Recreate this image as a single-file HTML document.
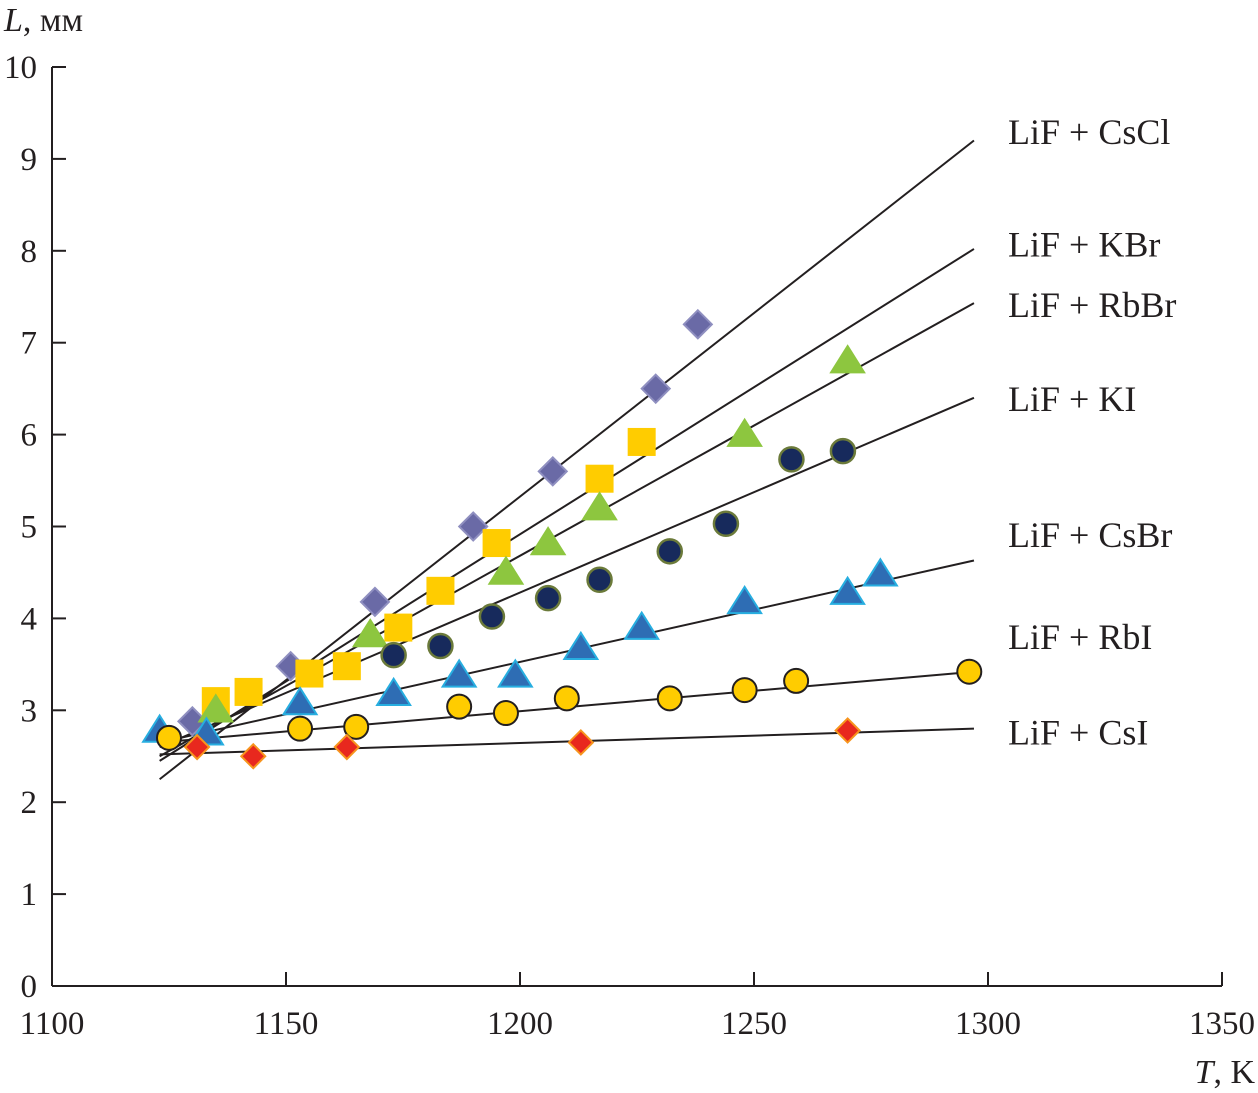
<!DOCTYPE html>
<html><head><meta charset="utf-8"><style>
html,body{margin:0;padding:0;background:#fff}
svg{display:block}
text{font-family:"Liberation Serif",serif;fill:#231f20}
</style></head><body>
<svg id="chart" width="1258" height="1093" viewBox="0 0 1258 1093" xmlns="http://www.w3.org/2000/svg">
<g id="axes"></g>
<g id="lines"></g>
<g id="marks"></g>
<g id="labels"></g>
</svg>
<script>
const xTicks=[1100,1150,1200,1250,1300,1350];
const yTicks=[0,1,2,3,4,5,6,7,8,9,10];
const seriesNames=["LiF + CsCl","LiF + KBr","LiF + RbBr","LiF + KI","LiF + CsBr","LiF + RbI","LiF + CsI"];
const labelY=[9.29,8.07,7.41,6.39,4.91,3.8,2.76];
const fitStart=[2.25,2.45,2.5,2.6,2.65,2.65,2.52];
const fitEnd=[9.2,8.02,7.43,6.4,4.63,3.42,2.8];
const fitT0=1123, fitT1=1297;
const csclT=[1130,1151,1169,1190,1207,1229,1238];
const csclL=[2.88,3.48,4.18,5.0,5.6,6.5,7.2];
const kbrT=[1135,1142,1155,1163,1174,1183,1195,1217,1226];
const kbrL=[3.1,3.2,3.4,3.48,3.9,4.3,4.82,5.52,5.92];
const rbbrT=[1135,1168,1197,1206,1217,1248,1270];
const rbbrL=[3.0,3.82,4.5,4.82,5.2,6.0,6.8];
const kiT=[1173,1183,1194,1206,1217,1232,1244,1258,1269];
const kiL=[3.6,3.7,4.02,4.22,4.42,4.73,5.03,5.73,5.82];
const csbrT=[1123,1133,1153,1173,1187,1199,1213,1226,1248,1270,1277];
const csbrL=[2.78,2.75,3.08,3.18,3.38,3.38,3.68,3.9,4.18,4.28,4.48];
const rbiT=[1125,1153,1165,1187,1197,1210,1232,1248,1259,1296];
const rbiL=[2.7,2.8,2.82,3.04,2.97,3.13,3.13,3.22,3.32,3.42];
const csiT=[1131,1143,1163,1213,1270];
const csiL=[2.6,2.5,2.6,2.65,2.78];

const NS="http://www.w3.org/2000/svg";
const X=t=>52+(t-1100)*4.68;
const Y=v=>986-v*91.9;
function mk(tag,attrs,parent){const e=document.createElementNS(NS,tag);for(const k in attrs)e.setAttribute(k,attrs[k]);document.getElementById(parent).appendChild(e);return e;}
let e=mk("path",{d:`M52,986H1222M52,986V67`,stroke:"#231f20","stroke-width":2,fill:"none"},"axes");


yTicks.forEach(v=>{
 let t=mk("line",{x1:52,x2:66,y1:Y(v),y2:Y(v),stroke:"#231f20","stroke-width":2},"axes");
 
 
 let l=mk("text",{x:37,y:Y(v)+11,"font-size":33,"text-anchor":"end"},"axes");l.textContent=v;
 
 
});
xTicks.forEach(v=>{
 let t=mk("line",{x1:X(v),x2:X(v),y1:986,y2:972,stroke:"#231f20","stroke-width":2},"axes");
 
 
 let l=mk("text",{x:X(v),y:1034,"font-size":33,"text-anchor":"middle"},"axes");l.textContent=v;
 
 
});
let yt=mk("text",{x:4,y:31,"font-size":34},"axes");yt.innerHTML='<tspan font-style="italic">L</tspan>, мм';


let xt=mk("text",{x:1255,y:1083,"font-size":34,"text-anchor":"end"},"axes");xt.innerHTML='<tspan font-style="italic">T</tspan>, K';


seriesNames.forEach((n,i)=>{
 let l=mk("line",{x1:X(fitT0),y1:Y(fitStart[i]),x2:X(fitT1),y2:Y(fitEnd[i]),stroke:"#231f20","stroke-width":2},"lines");
 
 
 let t=mk("text",{x:1008,y:Y(labelY[i])+12,"font-size":36},"labels");t.textContent=n;
 
 
});
function diamond(cx,cy,r,fill,stroke){return mk("polygon",{points:`${cx},${cy-r} ${cx+r},${cy} ${cx},${cy+r} ${cx-r},${cy}`,fill,stroke,"stroke-width":2},"marks");}
function tri(cx,cy,r,fill,stroke){return mk("polygon",{points:`${cx},${cy-r} ${cx+r*1.1},${cy+r*0.75} ${cx-r*1.1},${cy+r*0.75}`,fill,stroke,"stroke-width":2},"marks");}
function plot(T,L,fn,name){T.forEach((t,i)=>{let m=fn(X(t),Y(L[i]));
 
 });}
plot(csclT,csclL,(x,y)=>diamond(x,y,14,"#6a6aa6","#8f8fc0"),"point-cscl");
plot(kbrT,kbrL,(x,y)=>mk("rect",{x:x-14,y:y-14,width:28,height:28,fill:"#ffcc00"},"marks"),"point-kbr");
plot(rbbrT,rbbrL,(x,y)=>tri(x,y,15,"#8dc63f","#8dc63f"),"point-rbbr");
plot(kiT,kiL,(x,y)=>mk("circle",{cx:x,cy:y,r:12,fill:"#172a5c",stroke:"#6b7a3a","stroke-width":2.5},"marks"),"point-ki");
plot(csbrT,csbrL,(x,y)=>tri(x,y,15,"#2e6db4","#27aee0"),"point-csbr");
plot(rbiT,rbiL,(x,y)=>mk("circle",{cx:x,cy:y,r:12,fill:"#ffcc00",stroke:"#231f20","stroke-width":2},"marks"),"point-rbi");
plot(csiT,csiL,(x,y)=>diamond(x,y,12,"#e8281e","#f7941d"),"point-csi");
</script>
</body></html>
